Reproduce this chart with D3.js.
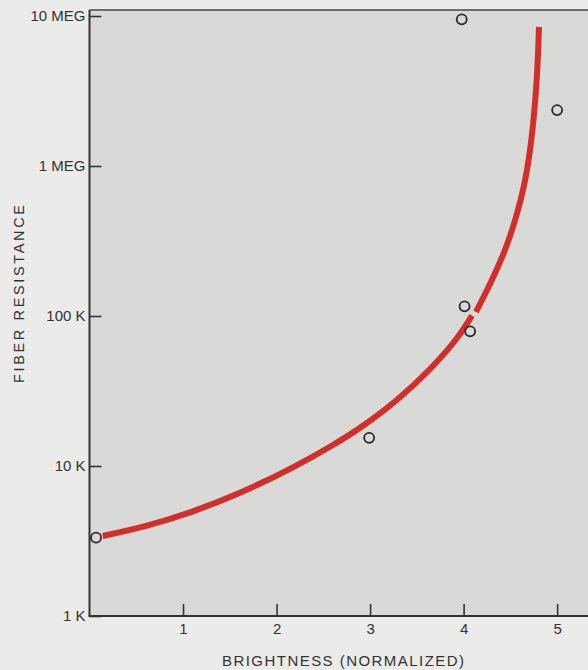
<!DOCTYPE html>
<html><head><meta charset="utf-8">
<script src="https://cdn.jsdelivr.net/npm/d3@7"></script>
<style>
html,body{margin:0;padding:0;background:#ebebe9;}
svg{display:block;}
text{font-family:"Liberation Sans","DejaVu Sans",sans-serif;fill:#333;}
</style></head>
<body>
<script>
// Measured data points (brightness, resistance in ohms)
const pointX = [0.07, 2.99, 3.98, 4.01, 4.07, 5.0];
const pointY = [3330, 15400, 9500000, 116000, 79000, 2360000];

// Fitted red curve, drawn in two pieces (small gap near 100 K)
const curveLowX = [0.141, 0.604, 1.075, 1.609, 2.144, 2.571, 2.924, 3.288, 3.641, 3.930, 4.090];
const curveLowY = [3415, 3988, 4913, 6637, 9579, 13430, 18540, 27630, 44330, 71340, 100460];
const curveHighX = [4.132, 4.287, 4.442, 4.560, 4.651, 4.710, 4.750, 4.779, 4.797, 4.806];
const curveHighY = [106400, 166000, 275400, 457000, 770000, 1279000, 2122000, 3575000, 5933000, 8450000];

const xTicks = [1, 2, 3, 4, 5];
const yTicks = [1e3, 1e4, 1e5, 1e6, 1e7];
const yTickLabels = ["1 K", "10 K", "100 K", "1 MEG", "10 MEG"];
const xTitle = "BRIGHTNESS (NORMALIZED)";
const yTitle = "FIBER RESISTANCE";

const W = 588, H = 670;
const mLeft = 89.5, mRight = 588, mTop = 16, mBottom = 616;

const svg = d3.select("body").append("svg").attr("width", W).attr("height", H);

const x = d3.scaleLinear().domain([0, 5.33]).range([mLeft, mRight]);
const y = d3.scaleLog().domain([1e3, 1e7]).range([mBottom, mTop]);

// plot background
svg.append("rect").attr("x", mLeft).attr("y", 10).attr("width", mRight - mLeft).attr("height", mBottom - 10)
  .attr("fill", "#d9d9d7");

// top border
svg.append("line").attr("x1", mLeft).attr("x2", mRight).attr("y1", 10).attr("y2", 10)
  .attr("stroke", "#444").attr("stroke-width", 1.5);

// y axis
const yAxis = d3.axisLeft(y).tickValues(yTicks)
  .tickFormat(d => yTickLabels[yTicks.indexOf(d)])
  .tickSizeInner(-12).tickSizeOuter(0).tickPadding(4);
const gy = svg.append("g").attr("transform", `translate(${mLeft},0)`).call(yAxis);
gy.select(".domain").remove();
gy.append("line").attr("x1", 0).attr("x2", 0).attr("y1", 10).attr("y2", mBottom)
  .attr("stroke", "#333").attr("stroke-width", 2);
gy.selectAll(".tick line").attr("stroke", "#333").attr("stroke-width", 1.6);
gy.selectAll(".tick text").attr("font-size", 15).style("fill", "#333");

// x axis
const xAxis = d3.axisBottom(x).tickValues(xTicks).tickFormat(d3.format("d"))
  .tickSizeInner(-12).tickSizeOuter(0).tickPadding(7);
const gx = svg.append("g").attr("transform", `translate(0,${mBottom})`).call(xAxis);
gx.select(".domain").remove();
gx.append("line").attr("x1", mLeft - 1).attr("x2", mRight).attr("y1", 0).attr("y2", 0)
  .attr("stroke", "#333").attr("stroke-width", 2);
gx.selectAll(".tick line").attr("stroke", "#333").attr("stroke-width", 1.6);
gx.selectAll(".tick text").attr("font-size", 15).style("fill", "#333");

// curve
const low = curveLowX.map((v, i) => [v, curveLowY[i]]);
const high = curveHighX.map((v, i) => [v, curveHighY[i]]);
const lineSeg = d3.line().x(d => x(d[0])).y(d => y(d[1])).curve(d3.curveCatmullRom.alpha(0.5));
[low, high].forEach(seg => {
  svg.append("path").datum(seg).attr("d", lineSeg)
    .attr("fill", "none").attr("stroke", "#d22f2b").attr("stroke-width", 6);
});

// points
svg.append("g").selectAll("circle").data(pointX.map((v, i) => [v, pointY[i]]))
  .join("circle")
  .attr("cx", d => x(d[0])).attr("cy", d => y(d[1])).attr("r", 5)
  .attr("fill", "none").attr("stroke", "#2a2a2a").attr("stroke-width", 1.8);

// titles
svg.append("text").attr("x", 222).attr("y", 666).attr("font-size", 15)
  .attr("textLength", 242).attr("lengthAdjust", "spacing").text(xTitle);
svg.append("text").attr("transform", "translate(24,383) rotate(-90)").attr("font-size", 14.5)
  .attr("textLength", 178).attr("lengthAdjust", "spacing").text(yTitle);
</script>
</body></html>
